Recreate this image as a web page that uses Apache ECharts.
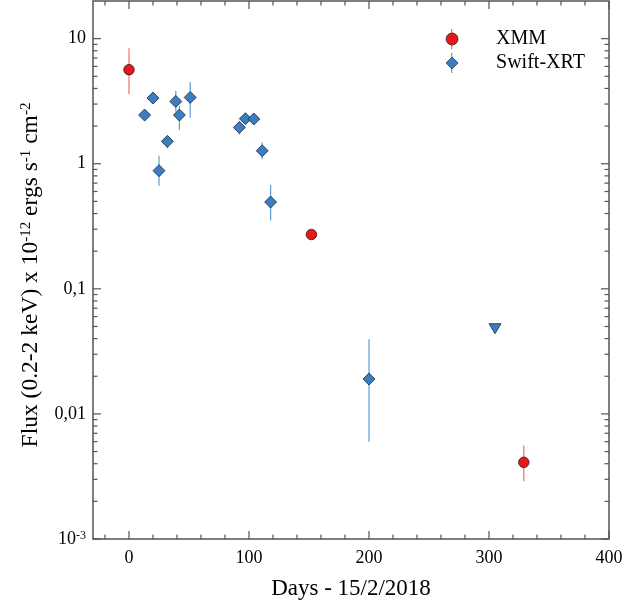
<!DOCTYPE html>
<html><head><meta charset="utf-8">
<script src="https://cdn.jsdelivr.net/npm/echarts@6/dist/echarts.min.js"></script>
<style>html,body{margin:0;padding:0;background:#fff}#c{width:644px;height:606px}</style>
</head><body><div id="c"></div>
<script>
// ---- data ----
const xmmDays  = [0, 152, 329];
const xmmFlux  = [5.65, 0.272, 0.0041];
const xmmLow   = [3.61, null, 0.0029];
const xmmHigh  = [8.4, null, 0.0056];

const swiftDays = [13, 20, 25, 32, 39, 42, 51, 92, 97, 104, 111, 118, 200];
const swiftFlux = [2.45, 3.35, 0.88, 1.51, 3.15, 2.45, 3.39, 1.95, 2.29, 2.28, 1.27, 0.494, 0.019];
const swiftLow  = [2.25, 3.15, 0.667, 1.33, 2.62, 1.87, 2.33, 1.71, 2.12, 2.15, 1.09, 0.352, 0.006];
const swiftHigh = [2.68, 3.55, 1.16, 1.65, 3.84, 2.91, 4.51, 2.18, 2.48, 2.40, 1.48, 0.675, 0.0396];

const limitDays = [305];
const limitFlux = [0.048];

const xMajorTicks = [0, 100, 200, 300, 400];
const xMinorTicks = [-20, 20, 40, 60, 80, 120, 140, 160, 180, 220, 240, 260, 280, 320, 340, 360, 380];
const yMajorTicks = [0.001, 0.01, 0.1, 1, 10];
const yMinorTicks = [0.002,0.003,0.004,0.005,0.006,0.007,0.008,0.009,
                     0.02,0.03,0.04,0.05,0.06,0.07,0.08,0.09,
                     0.2,0.3,0.4,0.5,0.6,0.7,0.8,0.9,
                     2,3,4,5,6,7,8,9];
const yTickLabels = {'0.001':'10{e|-3}', '0.01':'0,01', '0.1':'0,1', '1':'1', '10':'10'};

const X_MIN = -30, X_MAX = 400, Y_MIN = 0.001, Y_MAX = 20;
const FONT = '"Liberation Serif", "Times New Roman", serif';
const AX = '#555';
const RED = '#e3191c', BLUE = '#3a7dc0';
const RED_ERR = '#ef6f6f', BLUE_ERR = '#5d9cd6';

function errData(d, lo, hi){
  const out = [];
  for (let i = 0; i < d.length; i++) if (lo[i] != null && hi[i] != null) out.push([d[i], lo[i], hi[i]]);
  return out;
}
function errRender(color){
  return function(params, api){
    const a = api.coord([api.value(0), api.value(1)]);
    const b = api.coord([api.value(0), api.value(2)]);
    return {type:'line', shape:{x1:a[0], y1:a[1], x2:b[0], y2:b[1]}, style:{stroke:color, lineWidth:1.2}};
  };
}
function xTickRender(params, api){
  const v = api.value(0), len = api.value(1) === 1 ? 8 : 4.5;
  const b = api.coord([v, Y_MIN]), t = api.coord([v, Y_MAX]);
  return {type:'group', children:[
    {type:'line', shape:{x1:b[0], y1:b[1], x2:b[0], y2:b[1]-len}, style:{stroke:AX, lineWidth:1.2}},
    {type:'line', shape:{x1:t[0], y1:t[1], x2:t[0], y2:t[1]+len}, style:{stroke:AX, lineWidth:1.2}}
  ]};
}
function yTickRender(params, api){
  const v = api.value(1), len = api.value(2) === 1 ? 8 : 4.5;
  const l = api.coord([X_MIN, v]), r = api.coord([X_MAX, v]);
  return {type:'group', children:[
    {type:'line', shape:{x1:l[0], y1:l[1], x2:l[0]+len, y2:l[1]}, style:{stroke:AX, lineWidth:1.2}},
    {type:'line', shape:{x1:r[0], y1:r[1], x2:r[0]-len, y2:r[1]}, style:{stroke:AX, lineWidth:1.2}}
  ]};
}

const chart = echarts.init(document.getElementById('c'), null, {renderer:'canvas'});
chart.setOption({
  animation: false,
  backgroundColor: '#fff',
  textStyle: {fontFamily: FONT},
  grid: {left:93, right:35, top:1, bottom:67, show:true, borderColor:AX, borderWidth:1.5, backgroundColor:'transparent'},
  xAxis: {
    type:'value', min:X_MIN, max:X_MAX, interval:10,
    axisLine:{show:false}, axisTick:{show:false}, splitLine:{show:false},
    axisLabel:{fontFamily:FONT, fontSize:18, color:'#000', margin:10,
      formatter: v => (Math.round(v) % 100 === 0 ? String(Math.round(v)) : '')},
    name:'Days - 15/2/2018', nameLocation:'middle', nameGap:38,
    nameTextStyle:{fontFamily:FONT, fontSize:23, color:'#000'}
  },
  yAxis: {
    type:'log', logBase:10, min:Y_MIN, max:Y_MAX,
    axisLine:{show:false}, axisTick:{show:false}, splitLine:{show:false},
    axisLabel:{fontFamily:FONT, fontSize:18, color:'#000', margin:7,
      formatter: v => { for (const k in yTickLabels) if (Math.abs(v - Number(k)) / Number(k) < 1e-6) return yTickLabels[k]; return ''; },
      rich:{e:{fontFamily:FONT, fontSize:12, verticalAlign:'top', color:'#000'}}},
    name:'{n|Flux (0.2-2 keV) x 10}{s|-12}{n| ergs s}{s|-1}{n| cm}{s|-2}',
    nameLocation:'middle', nameGap:50,
    nameTextStyle:{fontFamily:FONT, fontSize:23.5, color:'#000', padding:[0,10,0,0],
      rich:{n:{fontFamily:FONT, fontSize:23.5, color:'#000'}, s:{fontFamily:FONT, fontSize:15, color:'#000', verticalAlign:'top'}}}
  },
  legend: [
    {
      left:451.7-0.6, top:29, padding:0, orient:'vertical', itemGap:4, selectedMode:false,
      itemWidth:1.2, itemHeight:20, z:3,
      textStyle:{fontFamily:FONT, fontSize:20, color:'rgba(0,0,0,0)'},
      data:[
        {name:'XMM', icon:'rect', itemStyle:{color:RED_ERR, borderWidth:0}},
        {name:'Swift-XRT', icon:'rect', itemStyle:{color:BLUE_ERR, borderWidth:0}}
      ]
    },
    {
      left:451.7-6, top:29, padding:0, orient:'vertical', itemGap:4, selectedMode:false,
      itemWidth:12, itemHeight:12, z:4,
      textStyle:{fontFamily:FONT, fontSize:20, color:'#000', padding:[0,0,0,33]},
      data:[
        {name:'XMM', icon:'circle', itemStyle:{borderWidth:0.7, borderColor:'#3a1010'}},
        {name:'Swift-XRT', icon:'diamond', itemStyle:{borderWidth:0.7, borderColor:'#1a2a3a'}}
      ]
    }
  ],
  series: [
    {type:'custom', name:'xticks', silent:true, clip:false, z:1,
      data: xMajorTicks.map(v => [v, 1]).concat(xMinorTicks.map(v => [v, 2])), renderItem:xTickRender},
    {type:'custom', name:'yticks', silent:true, clip:false, z:1,
      data: yMajorTicks.map(v => [0, v, 1]).concat(yMinorTicks.map(v => [0, v, 2])), renderItem:yTickRender},
    {type:'custom', name:'xmmErr', silent:true, z:2, data: errData(xmmDays, xmmLow, xmmHigh), renderItem: errRender(RED_ERR)},
    {type:'custom', name:'swiftErr', silent:true, z:2, data: errData(swiftDays, swiftLow, swiftHigh), renderItem: errRender(BLUE_ERR)},
    {type:'scatter', name:'XMM', z:5, symbol:'circle', symbolSize:10.5,
      itemStyle:{color:RED, borderColor:'#3a1010', borderWidth:0.8, opacity:1},
      data: xmmDays.map((d, i) => [d, xmmFlux[i]])},
    {type:'scatter', name:'Swift-XRT', z:5, symbol:'diamond', symbolSize:[12,12],
      itemStyle:{color:BLUE, borderColor:'#1a2a3a', borderWidth:0.8, opacity:1},
      data: swiftDays.map((d, i) => [d, swiftFlux[i]])},
    {type:'scatter', name:'limit', z:5, symbol:'triangle', symbolRotate:180, symbolSize:[12,10],
      itemStyle:{color:BLUE, borderColor:'#1a2a3a', borderWidth:0.8, opacity:1},
      data: limitDays.map((d, i) => [d, limitFlux[i]])}
  ]
});
</script></body></html>
